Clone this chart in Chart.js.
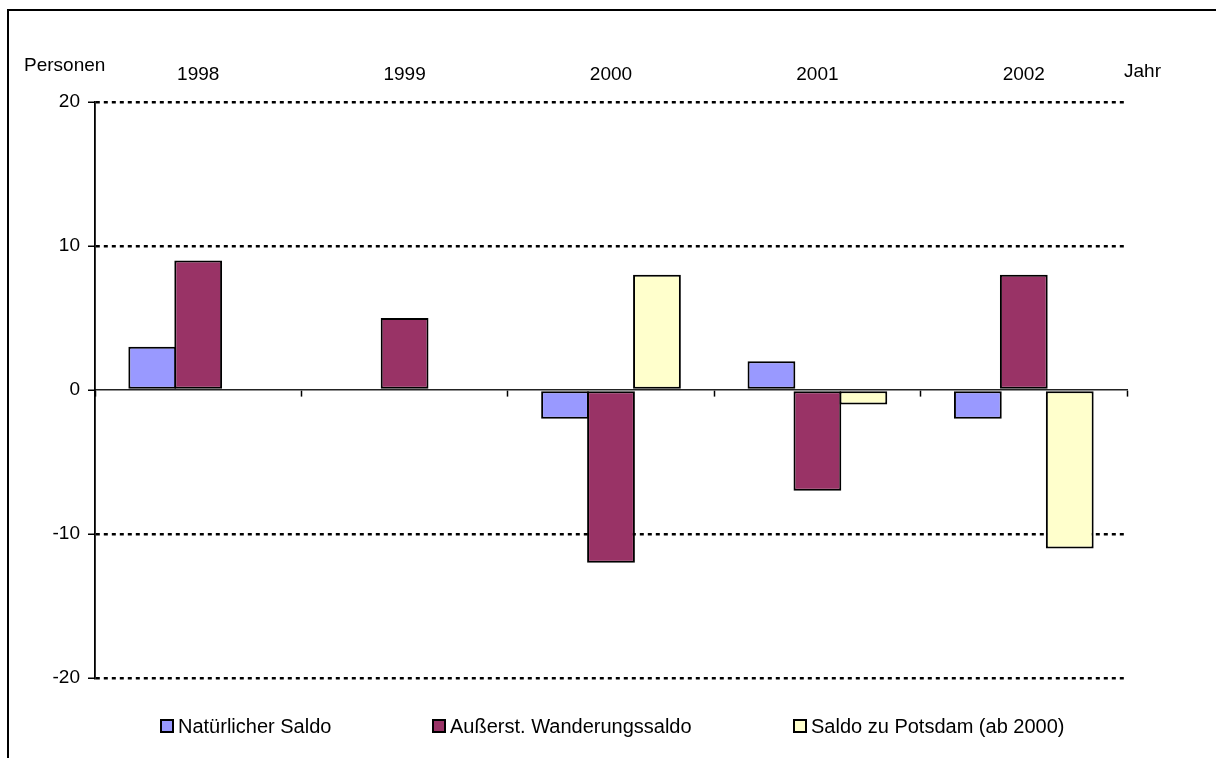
<!DOCTYPE html>
<html>
<head>
<meta charset="utf-8">
<script src="https://cdn.jsdelivr.net/npm/chart.js@4.4.1/dist/chart.umd.min.js"></script>
<style>
  html, body { margin: 0; padding: 0; background: #fff; }
  body { width: 1216px; height: 758px; position: relative; overflow: hidden; }
  #frame { position: absolute; left: 7px; top: 9px; width: 1400px; height: 900px;
           border-top: 2px solid #000; border-left: 2px solid #000; }
  #wrap { position: absolute; left: 0; top: 0; width: 1216px; height: 758px; }
</style>
</head>
<body>
<div id="frame"></div>
<div id="wrap"><canvas id="c" width="1216" height="758"></canvas></div>
<script>
const categories = ['1998', '1999', '2000', '2001', '2002'];
const natuerlicherSaldo = [3, null, -2, 2, -2];
const aussenWanderungssaldo = [9, 5, -12, -7, 8];
const saldoPotsdam = [null, null, 8, -1, -11];
const seriesNames = ['Natürlicher Saldo', 'Außerst. Wanderungssaldo', 'Saldo zu Potsdam (ab 2000)'];
const yTicks = [-20, -10, 0, 10, 20];
const yAxisTitle = 'Personen';
const xAxisTitle = 'Jahr';

const FONT = '"Liberation Sans", Arial, sans-serif';
const colors = ['#9999FF', '#993366', '#FFFFCC'];

const extraText = {
  id: 'extraText',
  afterDraw(chart) {
    const ctx = chart.ctx;
    ctx.save();
    ctx.fillStyle = '#000';
    ctx.font = '19px ' + FONT;
    ctx.textBaseline = 'alphabetic';
    ctx.textAlign = 'left';
    ctx.fillText(yAxisTitle, 24, 71);
    ctx.fillText(xAxisTitle, 1124, 77);
    // legend
    const starts = [161, 433, 794];
    ctx.font = '20px ' + FONT;
    ctx.textBaseline = 'middle';
    chart.data.datasets.forEach((ds, i) => {
      const x = starts[i];
      const y = 726;
      ctx.fillStyle = ds.backgroundColor;
      ctx.fillRect(x, y - 6, 12, 12);
      ctx.lineWidth = 2;
      ctx.strokeStyle = '#000';
      ctx.strokeRect(x, y - 6, 12, 12);
      ctx.fillStyle = '#000';
      ctx.fillText(ds.label, x + 17, y + 1);
    });
    ctx.restore();
  }
};

new Chart(document.getElementById('c'), {
  type: 'bar',
  data: {
    labels: categories,
    datasets: [
      { label: seriesNames[0], data: natuerlicherSaldo, backgroundColor: colors[0] },
      { label: seriesNames[1], data: aussenWanderungssaldo, backgroundColor: colors[1] },
      { label: seriesNames[2], data: saldoPotsdam, backgroundColor: colors[2] }
    ].map(d => Object.assign(d, { borderColor: '#000', borderWidth: 2, borderSkipped: false,
                                  categoryPercentage: 0.668, barPercentage: 1.04 }))
  },
  options: {
    responsive: false,
    animation: false,
    devicePixelRatio: 1,
    layout: { padding: { left: 0, top: 0, right: 89, bottom: 80 } },
    plugins: { legend: { display: false }, tooltip: { enabled: false } },
    scales: {
      x: {
        type: 'category',
        position: 'top',
        offset: true,
        grid: { display: false, drawTicks: false },
        border: { display: false },
        ticks: { color: '#000', font: { family: FONT, size: 19 }, padding: 16, maxRotation: 0 },
        afterFit(s) { s.height = 102; }
      },
      x2: {
        type: 'category',
        position: { y: 0 },
        offset: true,
        grid: { display: true, drawOnChartArea: false, drawTicks: true, tickLength: 6,
                offset: true, color: '#000', tickColor: '#000', tickWidth: 1.5 },
        border: { display: true, color: '#222', width: 1.6 },
        ticks: { display: false }
      },
      y: {
        min: -20, max: 20,
        afterBuildTicks(s) { s.ticks = yTicks.map(v => ({ value: v })); },
        ticks: { color: '#000', font: { family: FONT, size: 19 }, padding: 8 },
        grid: {
          color: c => (c.tick && c.tick.value === 0) ? 'rgba(0,0,0,0)' : '#000',
          lineWidth: 2.5,
          tickLength: 7,
          tickColor: '#000',
          tickWidth: 1.5
        },
        border: {
          display: true, color: '#000', width: 1.8,
          dash: c => (c.tick && c.tick.value === 0) ? [] : [4, 4]
        },
        afterFit(s) { s.width = 95; }
      }
    }
  },
  plugins: [extraText]
});
</script>
</body>
</html>
